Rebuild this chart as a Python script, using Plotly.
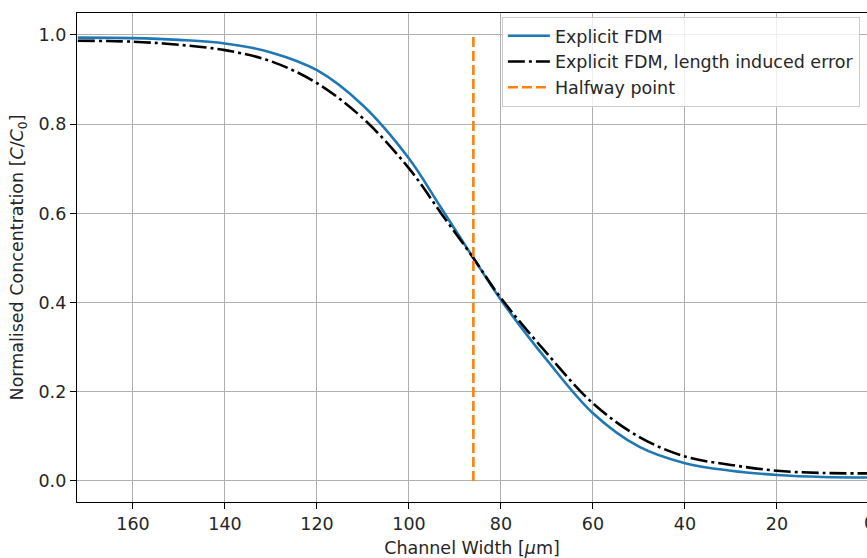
import plotly.graph_objects as go

# Channel width positions [um] and normalised concentration profiles
width_um = [172, 160, 150, 140, 130, 120, 110, 100, 93, 86, 80, 70, 60, 50, 40, 30, 20, 10, 0]
conc_fdm = [0.994, 0.993, 0.989, 0.981, 0.961, 0.921, 0.842, 0.723, 0.612, 0.500,
            0.406, 0.271, 0.152, 0.077, 0.040, 0.023, 0.0135, 0.009, 0.008]
conc_len_err = [0.987, 0.985, 0.978, 0.966, 0.941, 0.892, 0.813, 0.701, 0.600, 0.500,
                0.410, 0.286, 0.174, 0.099, 0.055, 0.036, 0.023, 0.018, 0.017]

# Halfway point marker
halfway_x = [86.0, 86.0]
halfway_y = [0.0, 1.0]

x_ticks = [160, 140, 120, 100, 80, 60, 40, 20, 0]
y_ticks = [0.0, 0.2, 0.4, 0.6, 0.8, 1.0]

FONT = "DejaVu Sans"
FS = 17.5

fig = go.Figure()
fig.add_trace(go.Scatter(
    x=width_um, y=conc_fdm, mode="lines", name="Explicit FDM",
    line=dict(color="#1f77b4", width=2.6, shape="spline", smoothing=1.0),
))
fig.add_trace(go.Scatter(
    x=width_um, y=conc_len_err, mode="lines",
    name="Explicit FDM, length induced error",
    line=dict(color="black", width=2.6, dash="17px,4px,3px,4px",
              shape="spline", smoothing=1.0),
))
fig.add_trace(go.Scatter(
    x=halfway_x, y=halfway_y, mode="lines", name="Halfway point",
    line=dict(color="#ff7f0e", width=2.6, dash="10px,4px"),
))

axis_common = dict(
    showline=True, linecolor="black", linewidth=1.4, mirror=True,
    showgrid=True, gridcolor="#b0b0b0", gridwidth=1.4,
    ticks="outside", ticklen=6, tickwidth=1.4, tickcolor="black",
    tickfont=dict(family=FONT, size=FS, color="#262626"),
    zeroline=False, automargin=False,
)

fig.update_layout(
    width=867, height=558,
    margin=dict(l=77, r=0, t=13, b=56),
    paper_bgcolor="white", plot_bgcolor="white",
    font=dict(family=FONT, size=FS, color="#262626"),
    showlegend=True,
    legend=dict(
        x=0.991, y=0.992, xanchor="right", yanchor="top",
        bgcolor="rgba(255,255,255,0.8)", bordercolor="#cccccc", borderwidth=1,
        font=dict(family=FONT, size=FS, color="#262626"),
        tracegroupgap=0, itemwidth=42,
    ),
    xaxis=dict(
        range=[172.17, 0.43], tickvals=x_ticks, ticktext=[str(v) for v in x_ticks],
        title=dict(text="Channel Width [<i>\u03bc</i>m]", standoff=14,
                   font=dict(family=FONT, size=FS, color="#262626")),
        **axis_common,
    ),
    yaxis=dict(
        range=[-0.0471, 1.0493], tickvals=y_ticks, ticktext=[f"{v:.1f}" for v in y_ticks],
        title=dict(text="Normalised Concentration [<i>C</i>/<i>C</i><sub>0</sub>]",
                   standoff=10, font=dict(family=FONT, size=FS, color="#262626")),
        **axis_common,
    ),
)

# Tick label for 0, which sits just past the right edge of the axes
fig.add_annotation(
    x=(869 - 77) / 790, y=0, xref="paper", yref="paper",
    yanchor="top", xanchor="center", yshift=-9, showarrow=False,
    text="0", font=dict(family=FONT, size=FS, color="#262626"),
)

fig.write_html("out.html")
